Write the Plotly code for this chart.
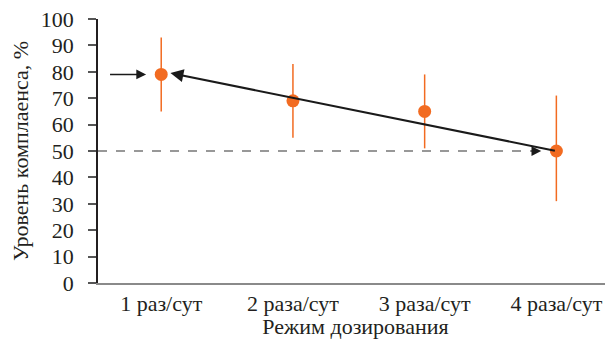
import plotly.graph_objects as go

categories = ["1 раз/сут", "2 раза/сут", "3 раза/сут", "4 раза/сут"]
compliance = [79, 69, 65, 50]
err_plus = [14, 14, 14, 21]
err_minus = [14, 14, 14, 19]
y_ticks = [0, 10, 20, 30, 40, 50, 60, 70, 80, 90, 100]

xi = list(range(len(categories)))
orange = "#F26B21"
font_family = "Liberation Serif, DejaVu Serif, serif"

fig = go.Figure()

# dashed reference line at the level of the last point
fig.add_trace(go.Scatter(
    x=[-0.48, xi[-1] - 0.15], y=[compliance[-1], compliance[-1]],
    mode="lines", line=dict(color="#777777", width=1.5, dash="dash"),
    hoverinfo="skip", showlegend=False,
))

fig.add_trace(go.Scatter(
    x=xi, y=compliance, mode="markers",
    marker=dict(color=orange, size=13),
    error_y=dict(type="data", symmetric=False, array=err_plus, arrayminus=err_minus,
                 color=orange, thickness=1.5, width=0),
    showlegend=False,
))

# trend arrow from last point to first point
fig.add_annotation(x=xi[0] + 0.07, y=compliance[0] + 0.5, ax=xi[-1], ay=compliance[-1],
                   xref="x", yref="y", axref="x", ayref="y", text="",
                   showarrow=True, arrowhead=2, arrowsize=1.3, arrowwidth=2, arrowcolor="#1a1a1a")
# small pointer arrow to the first point
fig.add_annotation(x=xi[0] - 0.115, y=compliance[0], ax=xi[0] - 0.40, ay=compliance[0],
                   xref="x", yref="y", axref="x", ayref="y", text="",
                   showarrow=True, arrowhead=2, arrowsize=1.3, arrowwidth=1.5, arrowcolor="#1a1a1a")
# arrowhead on dashed line
fig.add_annotation(x=xi[-1] - 0.115, y=compliance[-1], ax=xi[-1] - 0.2, ay=compliance[-1],
                   xref="x", yref="y", axref="x", ayref="y", text="",
                   showarrow=True, arrowhead=2, arrowsize=1.3, arrowwidth=1.5, arrowcolor="#1a1a1a")

fig.update_layout(
    width=605, height=331,
    margin=dict(l=90, r=0, t=11, b=56, autoexpand=False),
    paper_bgcolor="white", plot_bgcolor="white",
    font=dict(family=font_family, size=22, color="#231f20"),
    xaxis=dict(
        range=[-0.48, 3.43], tickvals=xi, ticktext=categories, automargin=False,
        showgrid=False, zeroline=False, showline=True, linecolor="#8a8a8a", linewidth=2,
        ticks="", tickfont=dict(size=22), ticklabeloverflow="allow",
        title=dict(text="Режим дозирования", standoff=0, font=dict(size=22)),
    ),
    yaxis=dict(
        range=[0, 100], tickvals=y_ticks, showgrid=False, zeroline=False, automargin=False,
        showline=True, linecolor="#231f20", linewidth=1.5,
        ticks="outside", ticklen=8, tickcolor="#555555", tickwidth=1.5,
        ticklabelstandoff=10, tickfont=dict(size=22), ticklabeloverflow="allow",
        title=dict(text="Уровень комплаенса, %", standoff=16, font=dict(size=22)),
    ),
)

fig.write_html("out.html")
